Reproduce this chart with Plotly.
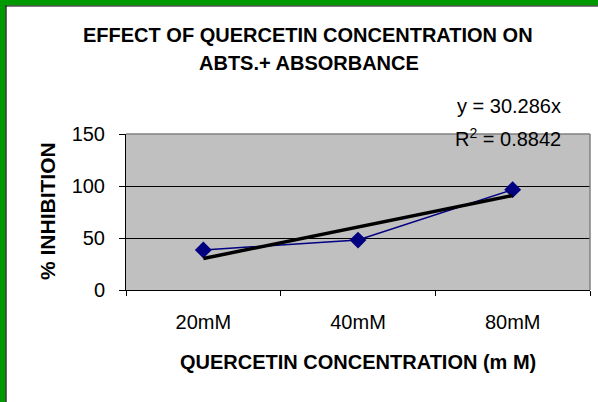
import plotly.graph_objects as go

# ---- data ----
categories = ["20mM", "40mM", "80mM"]
inhibition = [38.5, 48, 96.5]
trend_slope = 30.286
trend_values = [trend_slope * (i + 1) for i in range(len(categories))]
y_ticks = [0, 50, 100, 150]

title_line1 = "EFFECT OF QUERCETIN CONCENTRATION ON"
title_line2 = "ABTS.+ ABSORBANCE"
x_title = "QUERCETIN CONCENTRATION (m M)"
y_title = "% INHIBITION"
eq_text = "y = 30.286x"
r2_text = "R<sup>2</sup> = 0.8842"

W, H = 598, 402
ML, MR, MT, MB = 126, 8, 134, 112
PW = W - ML - MR
PH = H - MT - MB


def px(x):
    return (x - ML) / PW


def py(y):
    return (H - MB - y) / PH


FONT = "Liberation Sans, Arial, sans-serif"

fig = go.Figure()
fig.add_trace(go.Scatter(
    x=categories, y=inhibition, mode="lines+markers",
    line=dict(color="#000080", width=1.5),
    marker=dict(symbol="diamond", size=13, color="#000080"),
    showlegend=False, hoverinfo="skip"))
fig.add_trace(go.Scatter(
    x=categories, y=trend_values, mode="lines",
    line=dict(color="#000000", width=3.5),
    showlegend=False, hoverinfo="skip"))

fig.update_layout(
    width=W, height=H,
    margin=dict(l=ML, r=MR, t=MT, b=MB, pad=0),
    paper_bgcolor="white", plot_bgcolor="#C0C0C0",
    font=dict(family=FONT, size=20, color="black"),
    showlegend=False,
)
fig.update_xaxes(
    type="category", range=[-0.5, 2.5], showgrid=False, zeroline=False,
    showline=True, linecolor="black", linewidth=1,
    ticks="outside", ticklen=5, tickcolor="black", tickson="boundaries",
    tickfont=dict(size=20), ticklabelstandoff=14,
)
fig.update_yaxes(
    range=[0, 150], tickvals=y_ticks, showgrid=True, gridcolor="black", gridwidth=1,
    zeroline=False, showline=True, linecolor="black", linewidth=1,
    ticks="outside", ticklen=6, tickcolor="black",
    tickfont=dict(size=20), ticklabelstandoff=10,
)

shapes = [
    dict(type="line", xref="paper", yref="paper", x0=0, x1=1, y0=1, y1=1,
         line=dict(color="#808080", width=1.5), layer="above"),
    dict(type="line", xref="paper", yref="paper", x0=1, x1=1, y0=0, y1=1,
         line=dict(color="#808080", width=1.5), layer="above"),
    dict(type="rect", xref="paper", yref="paper", x0=px(0), x1=px(W), y0=py(0), y1=py(5.5),
         fillcolor="#009900", line=dict(width=0), layer="above"),
    dict(type="rect", xref="paper", yref="paper", x0=px(0), x1=px(5.5), y0=py(0), y1=py(H),
         fillcolor="#009900", line=dict(width=0), layer="above"),
    dict(type="line", xref="paper", yref="paper", x0=px(5.5), x1=px(W), y0=py(6), y1=py(6),
         line=dict(color="black", width=1.2), layer="above"),
    dict(type="line", xref="paper", yref="paper", x0=px(6), x1=px(6), y0=py(5.5), y1=py(H),
         line=dict(color="black", width=1.2), layer="above"),
]
fig.update_layout(shapes=shapes)

annotations = [
    dict(text="<b>" + title_line1 + "</b>", x=px(308), y=py(35), xref="paper", yref="paper",
         xanchor="center", yanchor="middle", showarrow=False, font=dict(size=20)),
    dict(text="<b>" + title_line2 + "</b>", x=px(309), y=py(63), xref="paper", yref="paper",
         xanchor="center", yanchor="middle", showarrow=False, font=dict(size=20)),
    dict(text="<b>" + x_title + "</b>", x=px(358), y=py(362), xref="paper", yref="paper",
         xanchor="center", yanchor="middle", showarrow=False, font=dict(size=20)),
    dict(text="<b>" + y_title + "</b>", x=px(47), y=py(211), xref="paper", yref="paper",
         xanchor="center", yanchor="middle", textangle=-90, showarrow=False, font=dict(size=21)),
    dict(text=eq_text, x=px(563), y=py(106), xref="paper", yref="paper",
         xanchor="right", yanchor="middle", showarrow=False, font=dict(size=20)),
    dict(text=r2_text, x=px(563), y=py(137), xref="paper", yref="paper",
         xanchor="right", yanchor="middle", showarrow=False, font=dict(size=20)),
]
fig.update_layout(annotations=annotations)

fig.write_html(
    "out.html",
    config={"displayModeBar": False, "staticPlot": True},
    post_script=["document.body.style.margin='0';document.body.style.overflow='hidden';"],
)
